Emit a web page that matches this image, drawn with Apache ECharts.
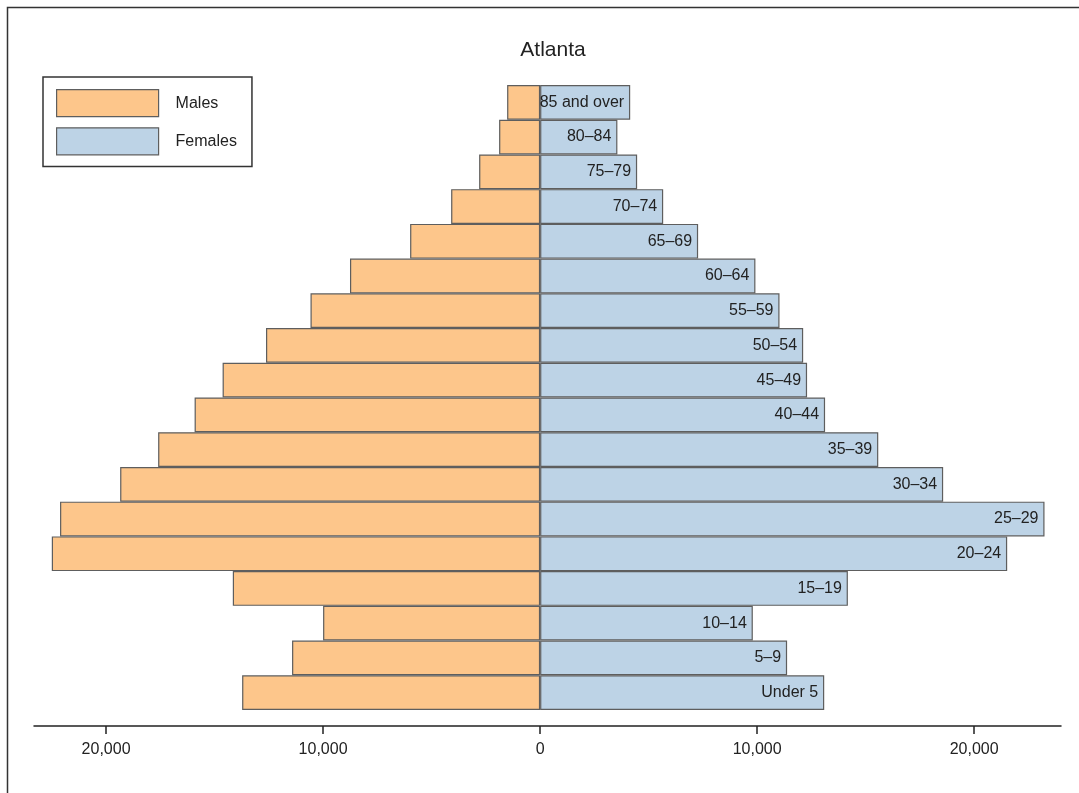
<!DOCTYPE html>
<html>
<head>
<meta charset="utf-8">
<script src="https://cdn.jsdelivr.net/npm/echarts@6/dist/echarts.min.js"></script>
<style>html,body{margin:0;padding:0;background:#fff;}#chart{width:1079px;height:793px;}</style>
</head>
<body>
<div id="chart"></div>
<script>
const categories = ['Under 5','5\u20139','10\u201314','15\u201319','20\u201324','25\u201329','30\u201334','35\u201339','40\u201344','45\u201349','50\u201354','55\u201359','60\u201364','65\u201369','70\u201374','75\u201379','80\u201384','85 and over'];
const males   = [13730, 11430, 10000, 14160, 22500, 22120, 19350, 17600, 15920, 14630, 12630, 10580, 8760, 5990, 4100, 2810, 1890, 1520];
const females = [13090, 11380, 9800, 14180, 21520, 23240, 18570, 15580, 13130, 12300, 12120, 11030, 9920, 7280, 5670, 4470, 3560, 4150];
const tickValues = [-20000, -10000, 0, 10000, 20000];

const chart = echarts.init(document.getElementById('chart'));
const fmt = v => Math.abs(v).toLocaleString('en-US');
chart.setOption({
  animation: false,
  backgroundColor: '#fff',
  textStyle: { fontFamily: 'Liberation Sans, Arial, sans-serif' },
  graphic: [{
    type: 'rect', shape: { x: 7.5, y: 7.5, width: 1200, height: 1000 },
    style: { fill: 'none', stroke: '#333', lineWidth: 1.5 }, silent: true
  }],
  title: {
    text: 'Atlanta', left: 548, top: 35, textAlign: 'center',
    textStyle: { fontSize: 21, fontWeight: 'normal', color: '#222', fontFamily: 'Liberation Sans, Arial, sans-serif' }
  },
  legend: {
    orient: 'vertical', left: 43, top: 77,
    padding: [12, 15, 11, 13],
    borderColor: '#333', borderWidth: 1.5,
    icon: 'rect',
    itemWidth: 102, itemHeight: 27, itemGap: 10,
    itemStyle: { borderColor: '#5e5e5e', borderWidth: 1.2 },
    textStyle: { fontSize: 16, color: '#222', padding: [0, 0, 0, 12] },
    data: ['Males', 'Females']
  },
  grid: { left: 34, right: 18, top: 85, bottom: 83 },
  xAxis: {
    type: 'value', min: -23320, max: 24000,
    offset: 16,
    splitLine: { show: false },
    axisLine: { show: true, lineStyle: { color: '#222', width: 1.5 } },
    axisTick: { show: true, length: 8, customValues: tickValues, lineStyle: { color: '#222', width: 1.5 } },
    axisLabel: { customValues: tickValues, formatter: fmt, fontSize: 16, color: '#222', margin: 16 }
  },
  yAxis: {
    type: 'category', data: categories, show: false
  },
  series: [
    {
      name: 'Males', type: 'bar', stack: 'p', barCategoryGap: 0,
      data: males.map(v => -v),
      itemStyle: { color: '#FDC68B', borderColor: '#5e5e5e', borderWidth: 1.2 }
    },
    {
      name: 'Females', type: 'bar', stack: 'p', barCategoryGap: 0,
      data: females,
      itemStyle: { color: '#BDD3E6', borderColor: '#5e5e5e', borderWidth: 1.2 },
      label: {
        show: true, position: 'insideRight', distance: 6,
        formatter: p => categories[p.dataIndex],
        fontSize: 16, color: '#222'
      }
    }
  ]
});
</script>
</body>
</html>
